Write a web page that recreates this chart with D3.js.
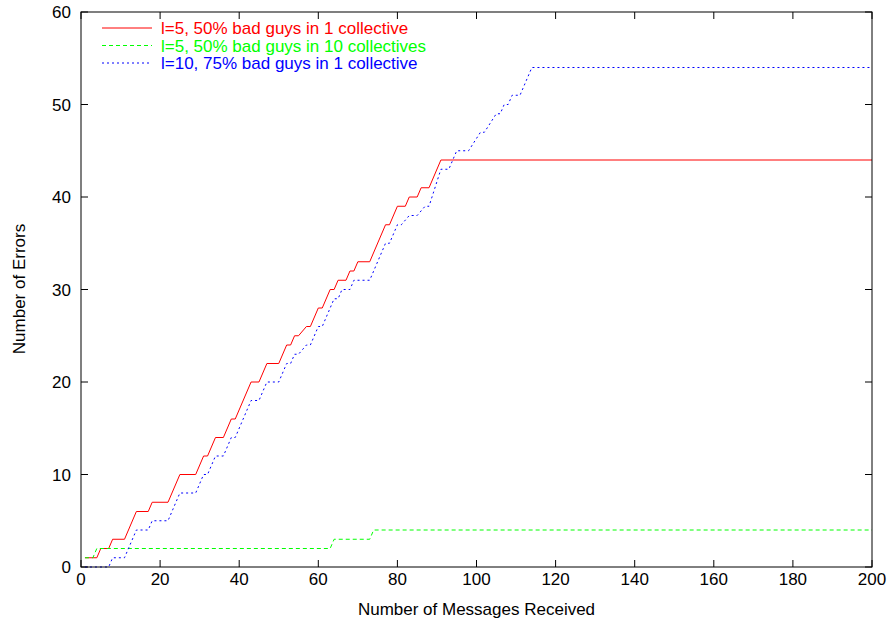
<!DOCTYPE html>
<html><head><meta charset="utf-8">
<script src="https://cdn.jsdelivr.net/npm/d3@7"></script>
<style>body{margin:0;background:#fff}svg{display:block}text{font-family:"Liberation Sans",Arial,Helvetica,sans-serif}</style>
</head><body><svg id="c" width="889" height="624"></svg>
<script>
const xTicks=[0,20,40,60,80,100,120,140,160,180,200];
const yTicks=[0,10,20,30,40,50,60];
const seriesNames=["l=5, 50% bad guys in 1 collective","l=5, 50% bad guys in 10 collectives","l=10, 75% bad guys in 1 collective"];
const seriesColors=["#ff0000","#00ff00","#0000ff"];
// vertices (messages, errors)
const redX=[1,4,5,7,8,11,14,17,18,22,25,29,31,32,34,36,38,39,43,45,47,50,52,53,54,55,57,58,60,61,63,64,65,67,68,69,70,73,77,78,80,82,83,85,86,88,91,200];
const redY=[1,1,2,2,3,3,6,6,7,7,10,10,12,12,14,14,16,16,20,20,22,22,24,24,25,25,26,26,28,28,30,30,31,31,32,32,33,33,37,37,39,39,40,40,41,41,44,44];
const greenX=[1,3,4,63,64,73,74,200];
const greenY=[1,1,2,2,3,3,4,4];
const blueX=[1,7,8,11,14,17,18,22,25,29,31,32,34,36,38,39,43,45,47,50,52,53,54,55,57,58,60,61,64,65,66,68,69,73,77,78,80,81,83,85,87,88,91,93,95,98,101,102,105,106,107,108,109,110,111,114,200];
const blueY=[0,0,1,1,4,4,5,5,8,8,10,10,12,12,14,14,18,18,20,20,22,22,23,23,24,24,26,26,29,29,30,30,31,31,35,35,37,37,38,38,39,39,43,43,45,45,47,47,49,49,50,50,51,51,51,54,54];

const svg=d3.select("#c");
const L=81,R=872,T=12,B=567;
const x=d3.scaleLinear().domain([0,200]).range([L,R]);
const y=d3.scaleLinear().domain([0,60]).range([B,T]);
const fs=17;
// ticks (inward, mirrored)
const tl=7;
const g=svg.append("g");
xTicks.forEach(t=>{
  g.append("line").attr("x1",x(t)).attr("x2",x(t)).attr("y1",B).attr("y2",B-tl).attr("stroke","#000");
  g.append("line").attr("x1",x(t)).attr("x2",x(t)).attr("y1",T).attr("y2",T+tl).attr("stroke","#000");
  g.append("text").attr("x",x(t)).attr("y",B+18).attr("text-anchor","middle").attr("font-size",fs).text(t);
});
yTicks.forEach(t=>{
  g.append("line").attr("x1",L).attr("x2",L+tl).attr("y1",y(t)).attr("y2",y(t)).attr("stroke","#000");
  g.append("line").attr("x1",R).attr("x2",R-tl).attr("y1",y(t)).attr("y2",y(t)).attr("stroke","#000");
  g.append("text").attr("x",L-10).attr("y",y(t)+6).attr("text-anchor","end").attr("font-size",fs).text(t);
});
const line=d3.line().x(d=>x(d[0])).y(d=>y(d[1]));
const mk=(X,Y)=>X.map((v,i)=>[v,Y[i]]);
const data=[mk(redX,redY),mk(greenX,greenY),mk(blueX,blueY)];
const dashes=[null,"4,3","2,3"];
data.forEach((d,i)=>{
  svg.append("path").attr("d",line(d)).attr("fill","none").attr("stroke",seriesColors[i]).attr("stroke-width",1).attr("stroke-dasharray",dashes[i]);
});
// frame
svg.append("rect").attr("x",L).attr("y",T).attr("width",R-L).attr("height",B-T).attr("fill","none").attr("stroke","#000");
// legend
seriesNames.forEach((n,i)=>{
  const cy=28+i*17.5;
  svg.append("line").attr("x1",102).attr("x2",152).attr("y1",cy).attr("y2",cy).attr("stroke",seriesColors[i]).attr("stroke-dasharray",dashes[i]);
  svg.append("text").attr("x",161).attr("y",cy+6).attr("font-size",fs).attr("fill",seriesColors[i]).text(n);
});
svg.append("text").attr("x",(L+R)/2).attr("y",615).attr("text-anchor","middle").attr("font-size",fs).text("Number of Messages Received");
svg.append("text").attr("transform","translate(25,289) rotate(-90)").attr("text-anchor","middle").attr("font-size",fs).text("Number of Errors");
</script></body></html>
